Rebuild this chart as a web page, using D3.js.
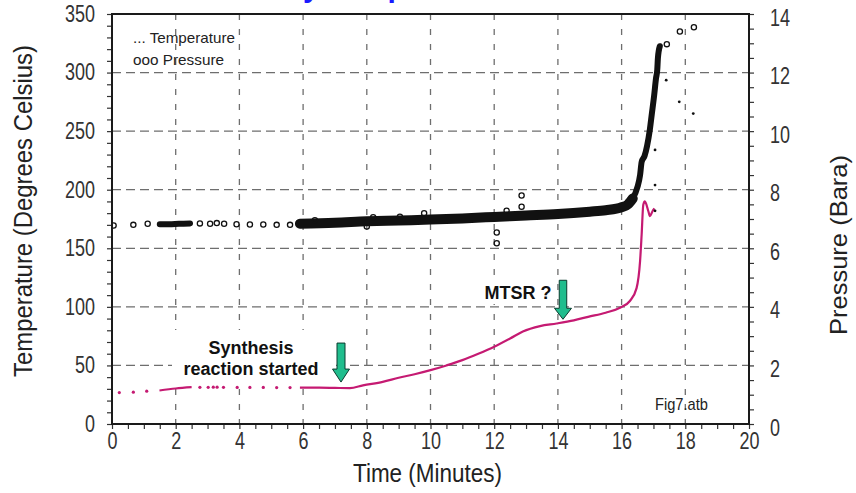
<!DOCTYPE html>
<html><head><meta charset="utf-8">
<script src="https://cdn.jsdelivr.net/npm/d3@7"></script>
<style>
html,body{margin:0;padding:0;background:#fff;}
svg{display:block;}
</style></head><body>
<svg id="chart" width="856" height="493"></svg>
<script>
// ---------- data ----------
const xTickLabels = [0, 2, 4, 6, 8, 10, 12, 14, 16, 18, 20];
const tempTickLabels = [0, 50, 100, 150, 200, 250, 300, 350];
const pressTickLabels = [0, 2, 4, 6, 8, 10, 12, 14];
const xGridValues = [2, 4, 6, 8, 10, 12, 14, 16, 18];
const tempGridValues = [50, 100, 150, 200, 250, 300];

// Temperature (°C) vs time (min), pink trace
const tempDots = [[0.23, 26.8], [0.67, 27.2], [1.09, 28.0], [2.76, 31.3], [3.02, 31.3], [3.18, 31.4], [3.3, 31.4],
  [3.5, 31.3], [3.93, 31.2], [4.33, 31.2], [4.75, 31.2], [5.17, 31.1], [5.59, 31.1]];
const tempSolidEarly = [[1.49, 28.6], [2.0, 30.3], [2.5, 31.4]];
const tempSolidMain = [[5.9, 31.0], [6.5, 31.0], [7.0, 30.8], [7.47, 30.6], [7.88, 33.0], [8.5, 36.0], [9.0, 39.5],
  [9.5, 42.5], [10.0, 46.0], [10.5, 50.0], [11.0, 54.5], [11.5, 60.0], [12.0, 66.0], [12.5, 73.0], [12.9, 79.0],
  [13.44, 83.6], [13.96, 85.8], [14.5, 88.5], [14.95, 91.5], [15.5, 95.0], [15.95, 99.2], [16.26, 105.0],
  [16.47, 116.0], [16.58, 139.0], [16.63, 162.0], [16.68, 187.0], [16.73, 190.0], [16.84, 181.6],
  [16.89, 177.4], [16.97, 181.6], [17.03, 184.0]];
const tempStrayDots = [[17.05, 182], [17.05, 204], [17.05, 234], [17.4, 293.5], [17.81, 275], [18.25, 265]];

// Pressure (bara) vs time (min), black circles
const pressSparse = [[0.05, 6.78], [0.67, 6.8], [1.12, 6.84], [2.76, 6.85], [3.08, 6.84], [3.29, 6.86], [3.52, 6.84],
  [3.91, 6.82], [4.33, 6.81], [4.75, 6.81], [5.17, 6.8], [5.59, 6.8]];
const pressClusterEarly = [[1.5, 6.82], [1.8, 6.82], [2.1, 6.84], [2.45, 6.85]];
const pressBand = [[5.9, 6.84], [7.0, 6.87], [8.0, 6.92], [9.0, 6.95], [10.0, 6.98], [11.0, 7.02], [12.0, 7.07],
  [13.0, 7.12], [14.0, 7.17], [15.0, 7.25], [15.5, 7.3], [16.0, 7.4], [16.2, 7.5], [16.35, 7.7]];
const pressRise = [[16.35, 7.7], [16.5, 8.1], [16.58, 8.5], [16.63, 8.95], [16.72, 9.15], [16.8, 9.5], [16.88, 10.0],
  [16.95, 10.6], [17.02, 11.2], [17.08, 11.8], [17.12, 12.1], [17.14, 12.5], [17.2, 12.9]];
const pressOutliers = [[6.37, 6.96], [8.0, 6.74], [8.2, 7.06], [9.04, 7.08], [9.8, 7.2], [12.08, 6.54], [12.08, 6.17],
  [12.39, 7.28], [12.86, 7.8], [12.86, 7.42], [17.42, 12.97], [17.83, 13.4], [18.27, 13.55]];

// Annotations: arrow tip at (time, °C)
const arrowTips = [[7.19, 35.8], [14.16, 89.4]];
const legendLines = ["... Temperature", "ooo Pressure"];

// ---------- layout ----------
const L = 112, R = 749, T = 14, B = 424;
const svg = d3.select("#chart");
const x = d3.scaleLinear().domain([0, 20]).range([L, R]);
const yT = d3.scaleLinear().domain([0, 350]).range([B, T]);
const yP = d3.scaleLinear().domain([0, 14]).range([B, T]);

const NARROW = "'Liberation Sans Narrow','Arial Narrow','Liberation Sans',sans-serif";
const SANS = "'Liberation Sans',Arial,sans-serif";

// clipped-off title fragment at the very top (as in the reference)
svg.append("text").attr("x", 188).attr("y", -3)
  .attr("font-family", SANS).attr("font-weight", "bold").attr("font-size", 30)
  .attr("fill", "#1a1aff").text("Runaway Temperature and Pressure");

// grid
const grid = svg.append("g").attr("stroke", "#6e6e6e").attr("stroke-width", 1.3).attr("fill", "none");
grid.selectAll("line.v").data(xGridValues).join("line").attr("class", "v")
  .attr("x1", d => x(d)).attr("x2", d => x(d)).attr("y1", T).attr("y2", B)
  .attr("stroke-dasharray", "6,9");
grid.selectAll("line.h").data(tempGridValues).join("line").attr("class", "h")
  .attr("x1", L).attr("x2", R).attr("y1", d => yT(d)).attr("y2", d => yT(d))
  .attr("stroke-dasharray", "9,5");

// axes
function styleAxis(g, fs) {
  g.select(".domain").remove();
  g.selectAll(".tick line").attr("stroke", "#333").attr("stroke-width", 1.2);
  g.selectAll(".tick text").attr("font-family", NARROW).attr("font-size", fs).attr("fill", "#333")
    .each(function () {
      const s = d3.select(this).text();
      if (s) d3.select(this).attr("textLength", s.length * 10).attr("lengthAdjust", "spacingAndGlyphs");
    });
}
svg.append("g").attr("transform", `translate(0,${B})`)
  .call(d3.axisBottom(x).tickValues(d3.range(0, 20.001, 0.5)).tickSize(5).tickPadding(4)
    .tickFormat(d => xTickLabels.includes(d) ? d : ""))
  .call(g => styleAxis(g, 23));
svg.append("g").attr("transform", `translate(${L},0)`)
  .call(d3.axisLeft(yT).tickValues(d3.range(0, 350.001, 10)).tickSize(5).tickPadding(12)
    .tickFormat(d => tempTickLabels.includes(d) ? d : ""))
  .call(g => styleAxis(g, 23));
svg.append("g").attr("transform", `translate(${R},0)`)
  .call(d3.axisRight(yP).tickValues(d3.range(0, 14.001, 0.5)).tickSize(5).tickPadding(16)
    .tickFormat(d => pressTickLabels.includes(d) ? d : ""))
  .call(g => { styleAxis(g, 23); g.selectAll(".tick text").attr("dy", "0.48em"); });

// axis titles
svg.append("text").attr("transform", "translate(32,211) rotate(-90)").attr("text-anchor", "middle")
  .attr("font-family", NARROW).attr("font-size", 25).attr("fill", "#222")
  .attr("textLength", 332).attr("lengthAdjust", "spacingAndGlyphs").text("Temperature (Degrees Celsius)");
svg.append("text").attr("transform", "translate(847,245) rotate(-90)").attr("text-anchor", "middle")
  .attr("font-family", NARROW).attr("font-size", 24).attr("fill", "#222")
  .attr("textLength", 180).attr("lengthAdjust", "spacingAndGlyphs").text("Pressure (Bara)");
svg.append("text").attr("x", 427.5).attr("y", 482).attr("text-anchor", "middle")
  .attr("font-family", NARROW).attr("font-size", 25).attr("fill", "#222")
  .attr("textLength", 149).attr("lengthAdjust", "spacingAndGlyphs").text("Time (Minutes)");

// legend + file tag
svg.append("g").selectAll("text").data(legendLines).join("text")
  .attr("x", 133).attr("y", (d, i) => 43 + i * 22)
  .attr("font-family", NARROW).attr("font-size", 15).attr("fill", "#222")
  .attr("textLength", (d, i) => i === 0 ? 102 : 91).attr("lengthAdjust", "spacingAndGlyphs")
  .text(d => d);
svg.append("text").attr("x", 655).attr("y", 410).attr("font-family", NARROW).attr("font-size", 17)
  .attr("fill", "#222").attr("textLength", 53).attr("lengthAdjust", "spacingAndGlyphs").text("Fig7.atb");

// white label boxes (hide grid behind annotation text)
svg.append("rect").attr("x", 172).attr("y", 330).attr("width", 161).attr("height", 54).attr("fill", "#fff");
svg.append("rect").attr("x", 482).attr("y", 282).attr("width", 72).attr("height", 22).attr("fill", "#fff");

// data layer (clipped to plot)
svg.append("clipPath").attr("id", "plotclip").append("rect")
  .attr("x", L).attr("y", T).attr("width", R - L).attr("height", B - T);
const data = svg.append("g").attr("clip-path", "url(#plotclip)");

const lineP = d3.line().x(d => x(d[0])).y(d => yP(d[1])).curve(d3.curveMonotoneX);
const lineT = d3.line().x(d => x(d[0])).y(d => yT(d[1])).curve(d3.curveMonotoneX);

// pressure
data.append("path").datum(pressClusterEarly).attr("d", lineP).attr("fill", "none")
  .attr("stroke", "#111").attr("stroke-width", 6).attr("stroke-linecap", "round");
data.append("path").datum(pressBand).attr("d", lineP).attr("fill", "none")
  .attr("stroke", "#111").attr("stroke-width", 10).attr("stroke-linecap", "round").attr("stroke-linejoin", "round");
data.append("path").datum(pressRise).attr("d", lineP).attr("fill", "none")
  .attr("stroke", "#111").attr("stroke-width", 6).attr("stroke-linecap", "round").attr("stroke-linejoin", "round");
data.selectAll("circle.ps").data(pressSparse.concat(pressOutliers)).join("circle").attr("class", "ps")
  .attr("cx", d => x(d[0])).attr("cy", d => yP(d[1])).attr("r", 2.6)
  .attr("fill", "none").attr("stroke", "#111").attr("stroke-width", 1.3);

// temperature
data.append("path").datum(tempSolidEarly).attr("d", lineT).attr("fill", "none")
  .attr("stroke", "#c51a72").attr("stroke-width", 2.2);
data.append("path").datum(tempSolidMain).attr("d", lineT).attr("fill", "none")
  .attr("stroke", "#c51a72").attr("stroke-width", 2.2).attr("stroke-linejoin", "round");
data.selectAll("circle.td").data(tempDots).join("circle").attr("class", "td")
  .attr("cx", d => x(d[0])).attr("cy", d => yT(d[1])).attr("r", 1.6).attr("fill", "#c51a72");
data.selectAll("circle.ts").data(tempStrayDots).join("circle").attr("class", "ts")
  .attr("cx", d => x(d[0])).attr("cy", d => yT(d[1])).attr("r", 1.4).attr("fill", "#111");

// arrows
const arrowShape = (len, head, hw, sw) =>
  `M${-sw / 2},${-len} L${sw / 2},${-len} L${sw / 2},${-head} L${hw / 2},${-head} L0,0 L${-hw / 2},${-head} L${-sw / 2},${-head} Z`;
svg.selectAll("path.arrow").data(arrowTips).join("path").attr("class", "arrow")
  .attr("transform", d => `translate(${x(d[0])},${yT(d[1])})`)
  .attr("d", (d, i) => i === 0 ? arrowShape(39, 13, 17, 8) : arrowShape(39, 11, 17, 7.5))
  .attr("fill", "#20bd8d").attr("stroke", "#0b3b2e").attr("stroke-width", 1);

// annotation texts
const ann = svg.append("g").attr("font-family", SANS).attr("font-weight", "bold").attr("font-size", 18)
  .attr("fill", "#111").attr("text-anchor", "middle");
ann.append("text").attr("x", 251).attr("y", 354).text("Synthesis");
ann.append("text").attr("x", 251).attr("y", 375).text("reaction started");
ann.append("text").attr("x", 518).attr("y", 299).text("MTSR ?");

// frame
svg.append("rect").attr("x", L).attr("y", T).attr("width", R - L).attr("height", B - T)
  .attr("fill", "none").attr("stroke", "#1a1a1a").attr("stroke-width", 2);
</script>
</body></html>
